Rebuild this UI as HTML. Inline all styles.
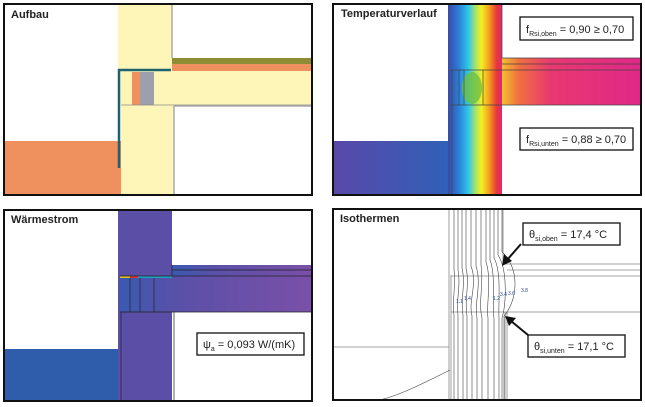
<!DOCTYPE html>
<html><head><meta charset="utf-8"><style>
body{margin:0;background:#fff}
svg{display:block}
text{font-family:"Liberation Sans",sans-serif}
</style></head><body>
<svg width="645" height="407" viewBox="0 0 645 407" xmlns="http://www.w3.org/2000/svg">
<defs>
<linearGradient id="rb" x1="0" x2="1" y1="0" y2="0">
<stop offset="0" stop-color="#3a4aa8"/><stop offset="0.2" stop-color="#2a7fd8"/><stop offset="0.38" stop-color="#30c8e8"/><stop offset="0.5" stop-color="#a0e070"/><stop offset="0.62" stop-color="#f4f020"/><stop offset="0.76" stop-color="#f4a020"/><stop offset="0.9" stop-color="#e83838"/><stop offset="1" stop-color="#e02878"/>
</linearGradient>
<linearGradient id="slab2" x1="0" x2="1" y1="0" y2="0">
<stop offset="0" stop-color="#f4c030"/><stop offset="0.12" stop-color="#f07040"/><stop offset="0.35" stop-color="#e83870"/><stop offset="1" stop-color="#e02888"/>
</linearGradient>
<linearGradient id="blk2" x1="0" x2="1"><stop offset="0" stop-color="#5a48a8"/><stop offset="1" stop-color="#3060b8"/></linearGradient>
<linearGradient id="slab3" x1="0" x2="1"><stop offset="0" stop-color="#3a5ab0"/><stop offset="0.3" stop-color="#5a50a8"/><stop offset="1" stop-color="#7a50a8"/></linearGradient>
</defs>

<!-- Panel 1 -->
<rect x="4" y="4" width="308" height="191" fill="#fff"/>
<rect x="4" y="141" width="117" height="54" fill="#ee915f"/>
<rect x="118" y="4" width="54" height="66" fill="#fdf6b8"/>
<rect x="120" y="70" width="192" height="35" fill="#fdf6b8"/>
<rect x="121" y="105" width="53" height="90" fill="#fdf6b8"/>
<rect x="172" y="58" width="140" height="6" fill="#8e8c34"/>
<rect x="172" y="64" width="140" height="7" fill="#ee915f"/>
<rect x="132" y="72" width="8" height="33" fill="#ee915f"/>
<rect x="140" y="72" width="14" height="33" fill="#9aa0ac"/>
<path d="M119 168 V70 H171" stroke="#1f6270" stroke-width="2.5" fill="none"/>
<path d="M172 4 V58 M174 106 V195 M174 106 H312" stroke="#aaa" stroke-width="1.5"/>
<line x1="121" y1="105" x2="312" y2="105" stroke="#888" stroke-width="0.8"/>
<rect x="4" y="4" width="308" height="191" fill="none" stroke="#111" stroke-width="2"/>
<text x="11" y="18" font-size="11" font-weight="bold" fill="#222">Aufbau</text>

<!-- Panel 2 -->
<rect x="333" y="141" width="118" height="54" fill="url(#blk2)"/>
<rect x="448" y="4" width="54" height="191" fill="url(#rb)"/>
<rect x="502" y="58" width="139" height="47" fill="url(#slab2)"/>
<ellipse cx="472" cy="88" rx="10" ry="16" fill="#70c040" opacity="0.8"/>
<path d="M450 70 H641 M450 105 H641 M502 58 H641 M502 64 H641 M459 70 V105 M464 70 V105 M483 70 V105 M452 70 V195 M502 4 V58" stroke="#444" stroke-width="0.7" fill="none"/>
<rect x="333" y="4" width="308" height="191" fill="none" stroke="#111" stroke-width="2"/>
<text x="341" y="17" font-size="11" font-weight="bold" fill="#222">Temperaturverlauf</text>
<rect x="520" y="17" width="113" height="23" fill="#fff" stroke="#111" stroke-width="1.3"/>
<text x="526" y="33" font-size="11" fill="#222">f<tspan font-size="7" dy="3">Rsi,oben</tspan><tspan dy="-3"> = 0,90 ≥ 0,70</tspan></text>
<rect x="520" y="128" width="113" height="22" fill="#fff" stroke="#111" stroke-width="1.3"/>
<text x="526" y="143" font-size="11" fill="#222">f<tspan font-size="7" dy="3">Rsi,unten</tspan><tspan dy="-3"> = 0,88 ≥ 0,70</tspan></text>

<!-- Panel 3 -->
<rect x="4" y="349" width="118" height="52" fill="#2f5cab"/>
<rect x="118" y="210" width="54" height="191" fill="#5a4ea6"/>
<rect x="120" y="276" width="192" height="36" fill="url(#slab3)"/>
<rect x="172" y="265" width="140" height="11" fill="url(#slab3)"/>
<rect x="120" y="276" width="52" height="2" fill="#20a0c0"/>
<rect x="120" y="276" width="18" height="2" fill="#e0c020"/>
<rect x="130" y="276" width="8" height="2" fill="#e03030"/>
<path d="M120 276 H312 M120 312 H312 M172 270 H312 M172 265 V276 M174 312 V401 M121 312 V401 M130 278 V312 M140 278 V312 M154 278 V312" stroke="#222" stroke-width="0.7" fill="none"/>
<rect x="4" y="210" width="308" height="191" fill="none" stroke="#111" stroke-width="2"/>
<text x="11" y="223" font-size="11" font-weight="bold" fill="#222">Wärmestrom</text>
<rect x="197" y="333" width="107" height="22" fill="#fff" stroke="#111" stroke-width="1.3"/>
<text x="203" y="348" font-size="11" fill="#222">ψ<tspan font-size="7" dy="3">a</tspan><tspan dy="-3"> = 0,093 W/(mK)</tspan></text>

<!-- Panel 4 -->
<g stroke="#888" stroke-width="0.8" fill="none">
<path d="M333 347 H449 M449 209 V400 M451 275 V400 M503 209 V264 M507 264 H641 M507 270 H641 M451 276 H641 M451 312 H641 M505 312 V400 M507 312 V400 M503 264 H507"/>
</g>
<g stroke="#444" stroke-width="0.6" fill="none">
<path d="M454 209 V270 C456 285 452 300 454 315 V400"/>
<path d="M458 209 V270 C461 285 456 300 458 315 V400"/>
<path d="M462 209 V268 C466 285 460 300 463 315 V400"/>
<path d="M466 209 V268 C470 285 464 300 467 316 V400"/>
<path d="M471 209 V266 C478 285 468 300 472 316 V400"/>
<path d="M476 209 V266 C482 285 474 302 477 318 V400"/>
<path d="M481 209 V265 C484 285 478 302 482 318 V400"/>
<path d="M486 209 V262 C492 280 486 305 488 318 V400"/>
<path d="M490 209 V260 C496 275 492 305 494 318 V400"/>
<path d="M494 209 V258 C502 272 498 305 499 318 V400"/>
<path d="M498 209 V255 C508 270 506 305 502 318 V400"/>
<path d="M502 209 V252 C520 268 518 300 504 316 V400"/>
<path d="M450 370 C420 385 400 395 380 400"/>
</g>
<g font-size="5" fill="#2a4a9a"><text x="456" y="303">1.1</text><text x="464" y="300">1.4</text><text x="493" y="300">1.2</text><text x="500" y="296">3.4</text><text x="508" y="295">3.6</text><text x="521" y="292">3.8</text></g>
<rect x="333" y="209" width="308" height="191" fill="none" stroke="#111" stroke-width="2"/>
<text x="340" y="222" font-size="11" font-weight="bold" fill="#222">Isothermen</text>
<rect x="523" y="223" width="97" height="22" fill="#fff" stroke="#111" stroke-width="1.3"/>
<text x="529" y="238" font-size="11" fill="#222">θ<tspan font-size="7" dy="3">si,oben</tspan><tspan dy="-3"> = 17,4 °C</tspan></text>
<rect x="528" y="335" width="97" height="22" fill="#fff" stroke="#111" stroke-width="1.3"/>
<text x="534" y="350" font-size="11" fill="#222">θ<tspan font-size="7" dy="3">si,unten</tspan><tspan dy="-3"> = 17,1 °C</tspan></text>
<line x1="521" y1="244" x2="507" y2="260" stroke="#111" stroke-width="2"/>
<polygon points="502,266 504,254 512,261" fill="#111"/>
<line x1="528" y1="335" x2="511" y2="321" stroke="#111" stroke-width="2"/>
<polygon points="505,316 516,318 509,326" fill="#111"/>
</svg>
</body></html>
